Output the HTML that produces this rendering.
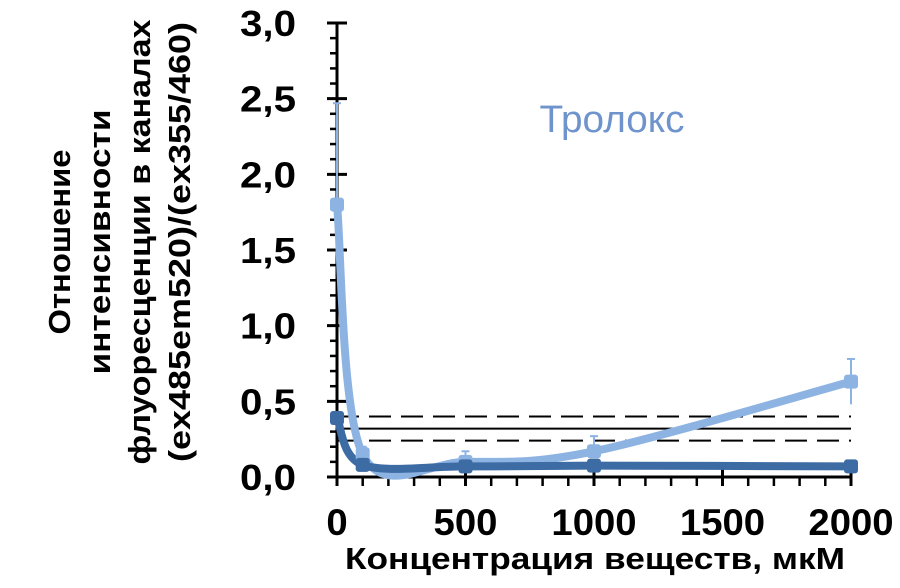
<!DOCTYPE html>
<html><head><meta charset="utf-8"><style>
body{margin:0;background:#fff;}
svg{display:block;font-family:"Liberation Sans",sans-serif;}
</style></head><body>
<svg id="c" width="900" height="588" viewBox="0 0 900 588">
<g id="g"></g>
<text x="612" y="132" font-size="38" fill="#6f93cc" text-anchor="middle" textLength="145" lengthAdjust="spacingAndGlyphs">Тролокс</text>
<text x="595" y="569" font-size="31" font-weight="bold" text-anchor="middle" textLength="500" lengthAdjust="spacingAndGlyphs">Концентрация веществ, мкМ</text>
<g transform="translate(120,242) rotate(-90)" font-size="31" font-weight="bold" text-anchor="middle">
<text x="0" y="-50" textLength="185" lengthAdjust="spacingAndGlyphs">Отношение</text>
<text x="0" y="-10" textLength="265" lengthAdjust="spacingAndGlyphs">интенсивности</text>
<text x="0" y="30" textLength="445" lengthAdjust="spacingAndGlyphs">флуоресценции в каналах</text>
<text x="0" y="70" textLength="440" lengthAdjust="spacingAndGlyphs">(ex485em520)/(ex355/460)</text>
</g>
</svg>
<script>
const xVals=[0,100,500,1000,2000];
const lightVals=[1.8,0.15,0.1,0.17,0.63];
const lightErr=[0.67,0.05,0.07,0.1,0.15];
const darkVals=[0.39,0.08,0.07,0.075,0.07];
const refSolid=[0.32];
const refDashed=[0.4,0.24];
const yTicks=[0,0.5,1,1.5,2,2.5,3];
const yLabels=["0,0","0,5","1,0","1,5","2,0","2,5","3,0"];
const xTicks=[0,500,1000,1500,2000];
const xLabels=["0","500","1000","1500","2000"];
const X0=337,X1=851,Y0=477,Y1=23;
const sx=v=>X0+(v/2000)*(X1-X0);
const sy=v=>Y0-(v/3)*(Y0-Y1);
const g=document.getElementById('g');
const NS='http://www.w3.org/2000/svg';
function mk(t,a){const e=document.createElementNS(NS,t);for(const k in a)e.setAttribute(k,a[k]);g.appendChild(e);return e;}
refSolid.forEach(v=>{const e=mk('line',{x1:X0,x2:X1,y1:sy(v),y2:sy(v),stroke:'#000','stroke-width':2});

});
refDashed.forEach(v=>{const e=mk('line',{x1:X0,x2:X1,y1:sy(v),y2:sy(v),stroke:'#000','stroke-width':2,'stroke-dasharray':'22,10'});

});
let a=mk('line',{x1:X0,x2:X0,y1:Y1,y2:Y0,stroke:'#000','stroke-width':3});


a=mk('line',{x1:X0-2,x2:X1+1,y1:Y0,y2:Y0,stroke:'#000','stroke-width':3});


for(let i=0;i<=30;i++){const y=sy(i/10);const maj=i%5==0;
 const t=mk('line',{x1:X0-(maj?10:7),x2:maj?X0+10:X0,y1:y,y2:y,stroke:'#000','stroke-width':maj?3:2.5});
 
 }
for(let i=0;i<=20;i++){const x=sx(i*100);const maj=i%5==0;
 const t=mk('line',{x1:x,x2:x,y1:maj?Y0-10:Y0,y2:Y0+9,stroke:'#000','stroke-width':maj?3:2.5});
 
 }
yTicks.forEach((v,i)=>{const t=mk('text',{x:X0-41,y:sy(v)+13,'font-size':36,'font-weight':'bold','text-anchor':'end',textLength:56,lengthAdjust:'spacingAndGlyphs'});t.textContent=yLabels[i];
 
 });
xTicks.forEach((v,i)=>{const t=mk('text',{x:sx(v),y:535,'font-size':37,'font-weight':'bold','text-anchor':'middle',textLength:xLabels[i].length*21.3,lengthAdjust:'spacingAndGlyphs'});t.textContent=xLabels[i];
 
 });
function smooth(vals){const p=xVals.map((x,i)=>[sx(x),sy(vals[i])]);let d='M'+p[0][0]+','+p[0][1];const k=0.5/3*2;
 for(let i=0;i<p.length-1;i++){const p0=p[i-1]||p[i],p1=p[i],p2=p[i+1],p3=p[i+2]||p2;
 const c1=[p1[0]+(p2[0]-p0[0])*k/2,p1[1]+(p2[1]-p0[1])*k/2],c2=[p2[0]-(p3[0]-p1[0])*k/2,p2[1]-(p3[1]-p1[1])*k/2];
 d+=` C${c1[0]},${c1[1]} ${c2[0]},${c2[1]} ${p2[0]},${p2[1]}`;}return d;}
xVals.forEach((x,i)=>{const e=mk('line',{x1:sx(x),x2:sx(x),y1:sy(lightVals[i]-lightErr[i]*(i==4?1:0)),y2:sy(lightVals[i]+lightErr[i]),stroke:'#8db3e2','stroke-width':2});
 
 
 const c=mk('line',{x1:sx(x)-4,x2:sx(x)+4,y1:sy(lightVals[i]+lightErr[i]),y2:sy(lightVals[i]+lightErr[i]),stroke:'#8db3e2','stroke-width':2});
 
 });
let l=mk('path',{d:smooth(lightVals),fill:'none',stroke:'#8db3e2','stroke-width':8,'stroke-linecap':'round'});


l=mk('path',{d:smooth(darkVals),fill:'none',stroke:'#3d6ba3','stroke-width':8,'stroke-linecap':'round'});


xVals.forEach((x,i)=>{const m=mk('rect',{x:sx(x)-7,y:sy(lightVals[i])-7,width:14,height:14,rx:3,fill:'#8db3e2'});
 
 });
xVals.forEach((x,i)=>{const m=mk('rect',{x:sx(x)-7,y:sy(darkVals[i])-7,width:14,height:14,rx:3,fill:'#3d6ba3'});
 
 });
</script>
</body></html>
